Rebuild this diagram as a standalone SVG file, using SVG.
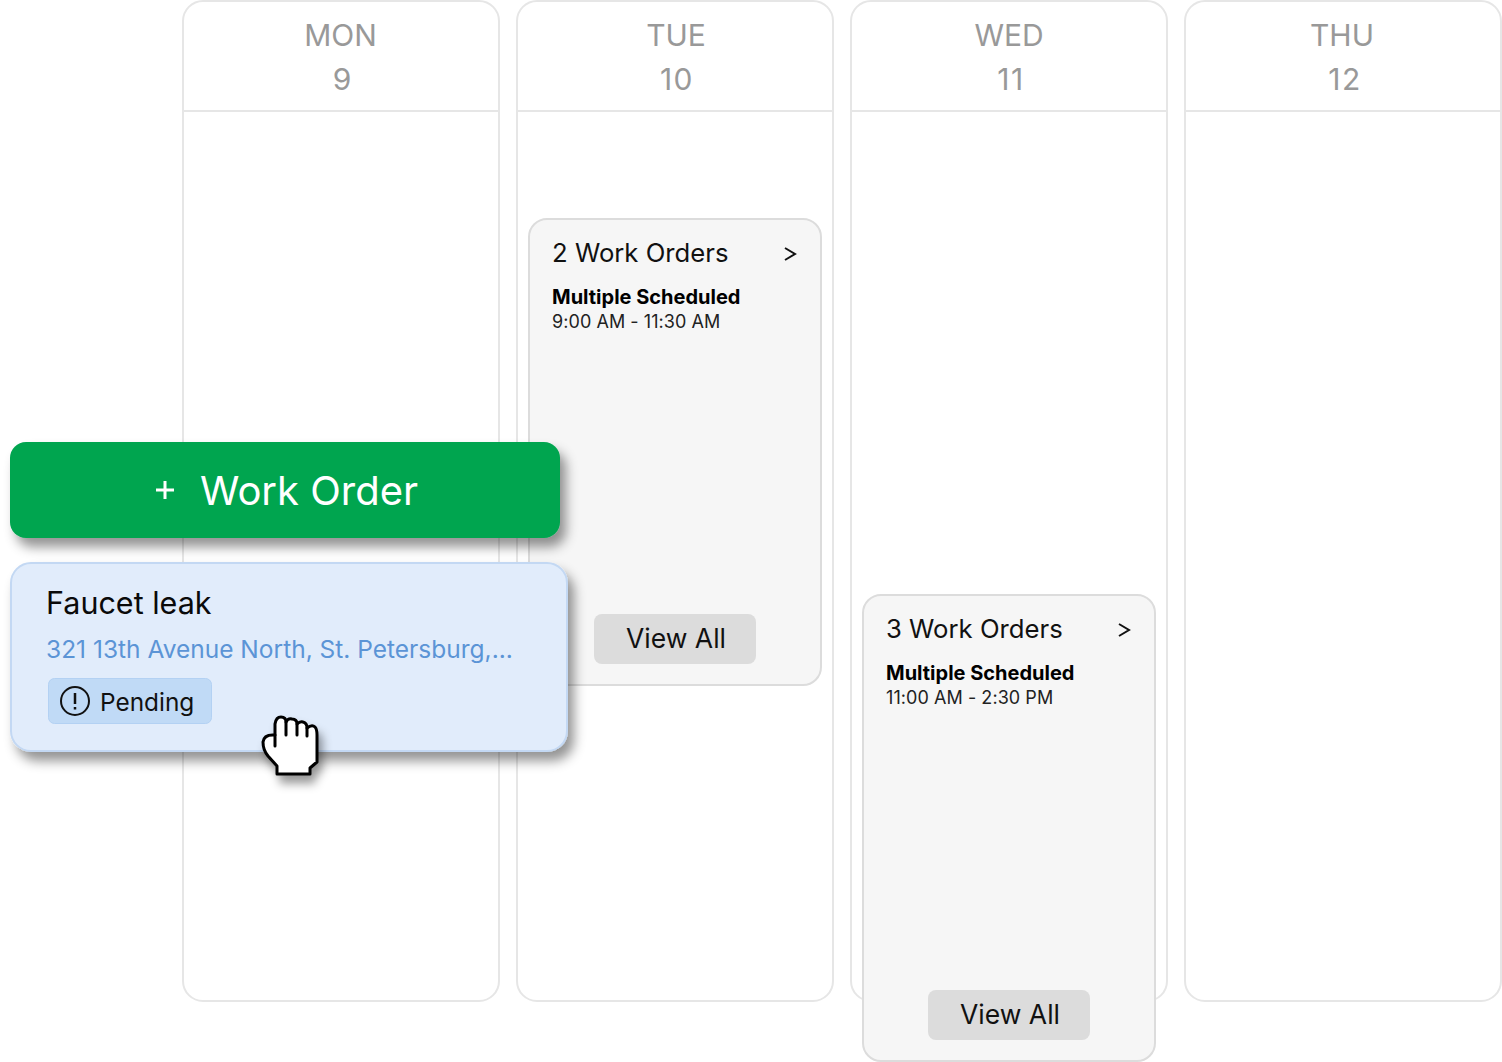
<svg xmlns="http://www.w3.org/2000/svg" width="1502" height="1062" viewBox="0 0 1502 1062">
<style>
text{font-family:Inter,"Liberation Sans",sans-serif}
.col{fill:#fff;stroke:#e6e6e6;stroke-width:2}
.hl{stroke:#e6e6e6;stroke-width:2}
.hd{font-size:30px;fill:#999;text-anchor:middle}
.num{letter-spacing:1.500px}
.card{fill:#f6f6f6;stroke:#dcdcdc;stroke-width:2}
.t{font-size:25.700px;fill:#111}
.b{font-size:20px;font-weight:700;fill:#000}
.s{font-size:18px;fill:#222;letter-spacing:.06px}
.btn{fill:#dcdcdc}
.v{font-size:26.500px;fill:#111;text-anchor:middle}
.ch{fill:none;stroke:#111;stroke-width:2}
</style>
<defs>
<filter id="sh" x="-10%" y="-20%" width="125%" height="150%"><feDropShadow dx="6" dy="9" stdDeviation="6" flood-color="#000" flood-opacity=".42"/></filter>
<filter id="sh2" x="-40%" y="-30%" width="180%" height="170%"><feDropShadow dx="4" dy="8" stdDeviation="5" flood-color="#000" flood-opacity=".4"/></filter>
</defs>
<g id="col-mon"><rect class="col" x="183" y="1" width="316" height="1000" rx="20"/><path class="hl" d="M184 111H498"/><text class="hd" x="340.500" y="46">MON</text><text class="hd" x="342" y="90">9</text></g>
<g id="col-tue"><rect class="col" x="517" y="1" width="316" height="1000" rx="20"/><path class="hl" d="M518 111H832"/><text class="hd" x="676" y="46">TUE</text><text class="hd num" x="677" y="90">10</text></g>
<g id="col-wed"><rect class="col" x="851" y="1" width="316" height="1000" rx="20"/><path class="hl" d="M852 111H1166"/><text class="hd" x="1009" y="46">WED</text><text class="hd num" x="1011" y="90">11</text></g>
<g id="col-thu"><rect class="col" x="1185" y="1" width="316" height="1000" rx="20"/><path class="hl" d="M1186 111H1500"/><text class="hd" x="1342" y="46">THU</text><text class="hd num" x="1345" y="90">12</text></g>
<g id="card-tue"><rect class="card" x="529" y="219" width="292" height="466" rx="18"/><text class="t" x="552" y="262">2 Work Orders</text><path class="ch" d="M785 248L795 254L785 260"/><text class="b" x="552" y="304">Multiple Scheduled</text><text class="s" x="552" y="328">9:00 AM - 11:30 AM</text><rect class="btn" x="594" y="614" width="162" height="50" rx="8"/><text class="v" x="676" y="648">View All</text></g>
<g id="card-wed"><rect class="card" x="863" y="595" width="292" height="466" rx="18"/><text class="t" x="886" y="638">3 Work Orders</text><path class="ch" d="M1119 624L1129 630L1119 636"/><text class="b" x="886" y="680">Multiple Scheduled</text><text class="s" x="886" y="704">11:00 AM - 2:30 PM</text><rect class="btn" x="928" y="990" width="162" height="50" rx="8"/><text class="v" x="1010" y="1024">View All</text></g>
<g id="add-button"><rect x="10" y="442" width="550" height="96" rx="16" fill="#03a550" filter="url(#sh)"/><path d="M165 481V499M156 490H174" stroke="#fff" stroke-width="3"/><text x="200" y="504.500" font-size="40" fill="#fff">Work Order</text></g>
<g id="faucet-card"><rect x="11" y="563" width="556" height="188" rx="20" fill="#e1ecfb" stroke="#c3d8f3" stroke-width="2" filter="url(#sh)"/><text x="46" y="614" font-size="30.500" fill="#0a0a0a">Faucet leak</text><text x="46" y="658" font-size="24.500" fill="#5b94d6">321 13th Avenue North, St. Petersburg,...</text><rect x="48.500" y="678.500" width="163" height="45" rx="6" fill="#c0daf6" stroke="#b3d1f3"/><circle cx="75" cy="701" r="14" fill="none" stroke="#111" stroke-width="2"/><path d="M75 693V704M75 707V709.500" stroke="#111" stroke-width="2.500"/><text x="100" y="710.500" font-size="24.400" fill="#111">Pending</text></g>
<g id="hand-cursor"><path d="M277 774V766L268 756Q263 750 263 742Q264 734 275 735V724Q276 717 281 717Q286 717 286 722Q288 718 292 719Q297 719 297 724Q300 721 303 722Q307 723 307 728Q312 724 315 727Q317 729 317 735V762L310 768V774Z" fill="#fff" stroke="#000" stroke-width="3" stroke-linejoin="round" filter="url(#sh2)"/><path d="M275 735V746M286 722V735M297 724V735M307 728V736" fill="none" stroke="#000" stroke-width="3" stroke-linecap="round"/></g>
</svg>
